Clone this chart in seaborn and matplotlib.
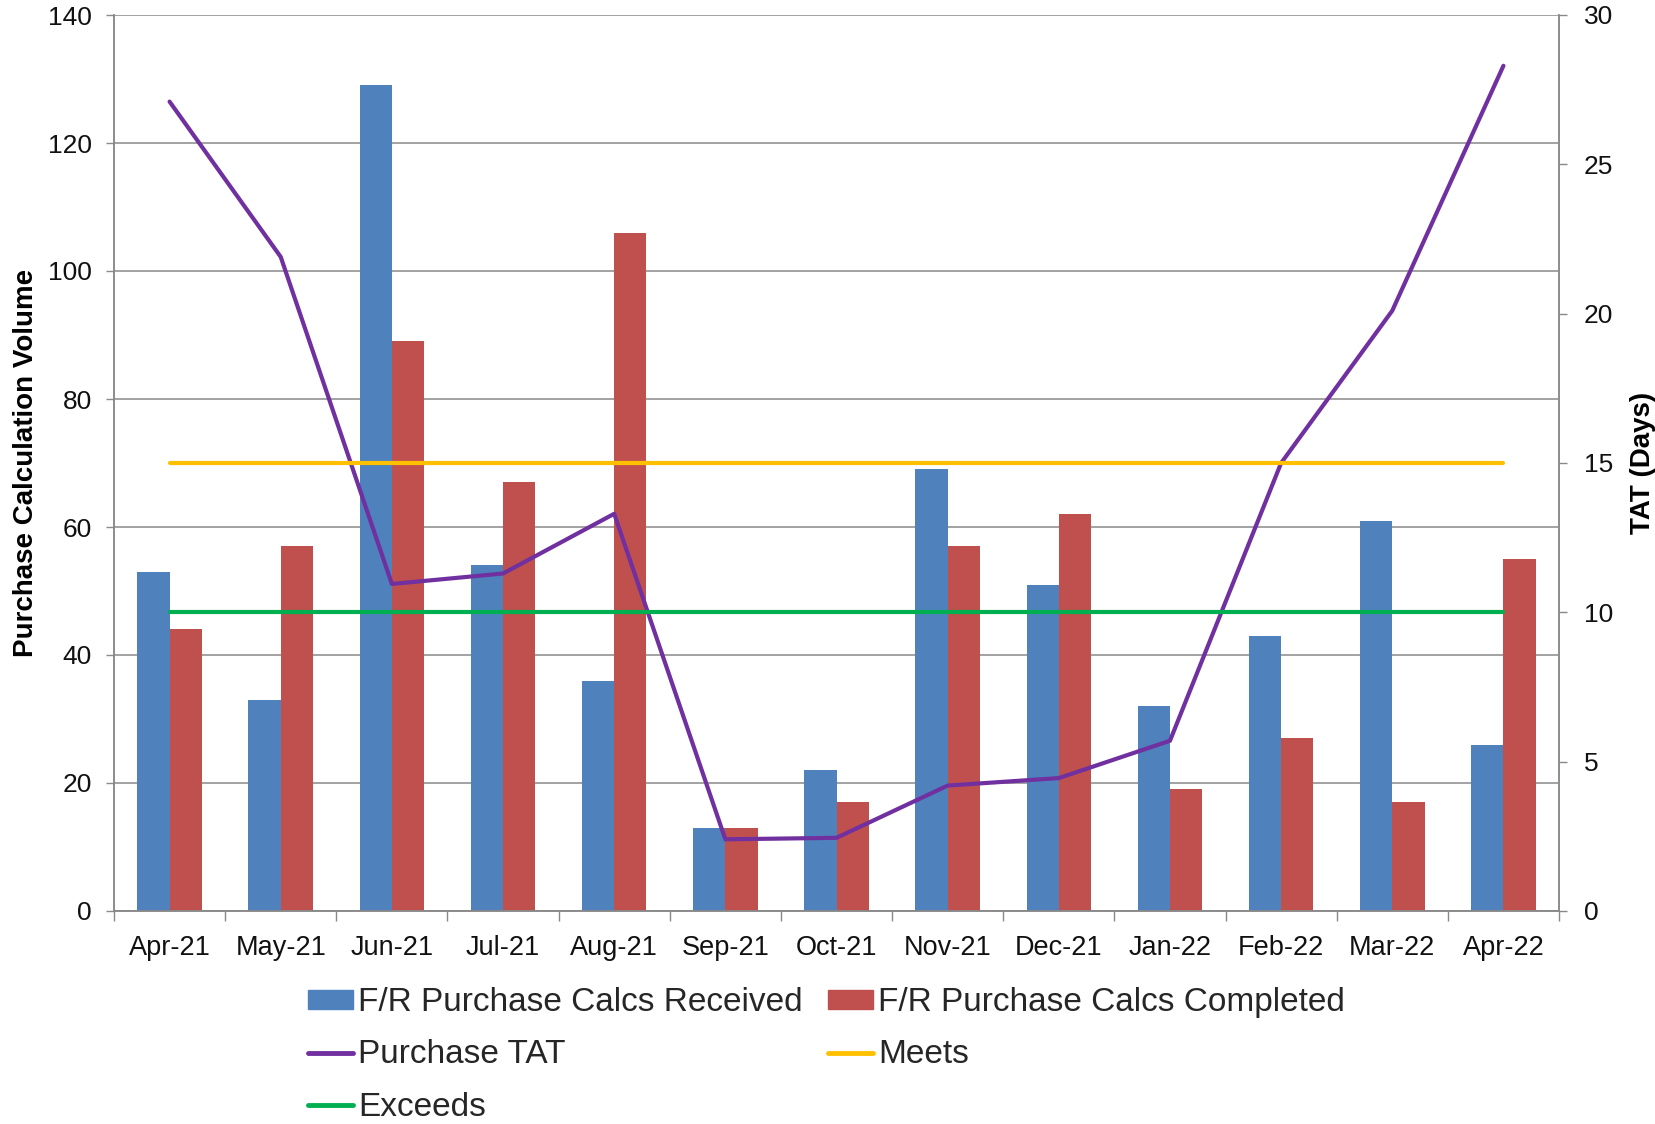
import numpy as np
import pandas as pd
import matplotlib
matplotlib.use("Agg")
import matplotlib.pyplot as plt
from matplotlib.patches import Patch
from matplotlib.lines import Line2D
from matplotlib.ticker import FixedLocator
import seaborn as sns


MONTHS = ["Apr-21", "May-21", "Jun-21", "Jul-21", "Aug-21", "Sep-21", "Oct-21",
          "Nov-21", "Dec-21", "Jan-22", "Feb-22", "Mar-22", "Apr-22"]
RECEIVED = [53, 33, 129, 54, 36, 13, 22, 69, 51, 32, 43, 61, 26]
COMPLETED = [44, 57, 89, 67, 106, 13, 17, 57, 62, 19, 27, 17, 55]
TAT = [27.1, 21.9, 10.95, 11.3, 13.3, 2.4, 2.45, 4.2, 4.45, 5.7, 15.0, 20.1, 28.3]
MEETS = 15
EXCEEDS = 10

LEFT_TICKS = [0, 20, 40, 60, 80, 100, 120, 140]
RIGHT_TICKS = [0, 5, 10, 15, 20, 25, 30]

REC_LABEL = "F/R Purchase Calcs Received"
COMP_LABEL = "F/R Purchase Calcs Completed"

BLUE = "#4F81BD"
RED = "#C0504D"
PURPLE = "#7030A0"
YELLOW = "#FFC000"
GREEN = "#00B050"
GREY = "#898989"


def build_frames():
    bar_df = pd.DataFrame({
        "month": MONTHS * 2,
        "volume": RECEIVED + COMPLETED,
        "series": [REC_LABEL] * len(MONTHS) + [COMP_LABEL] * len(MONTHS),
    })
    line_df = pd.DataFrame({
        "pos": np.arange(len(MONTHS)),
        "tat": TAT,
        "meets": [MEETS] * len(MONTHS),
        "exceeds": [EXCEEDS] * len(MONTHS),
    })
    return bar_df, line_df


def main():
    sns.set_theme(style="white")
    plt.rcParams["font.family"] = ["Liberation Sans", "DejaVu Sans"]

    bar_df, line_df = build_frames()

    fig = plt.figure(figsize=(16.55, 11.24), dpi=100)
    ax = fig.add_axes([114 / 1655, 1 - 911 / 1124, (1559 - 114) / 1655, (911 - 15) / 1124])

    sns.barplot(
        data=bar_df, x="month", y="volume", hue="series",
        order=MONTHS, hue_order=[REC_LABEL, COMP_LABEL],
        palette=[BLUE, RED], width=0.58, saturation=1,
        linewidth=0, legend=False, ax=ax
    )

    ax2 = ax.twinx()
    sns.lineplot(data=line_df, x="pos", y="tat", color=PURPLE, lw=3, ax=ax2)
    sns.lineplot(data=line_df, x="pos", y="meets", color=YELLOW, lw=3, ax=ax2)
    sns.lineplot(data=line_df, x="pos", y="exceeds", color=GREEN, lw=3, ax=ax2)

    # left axis
    ax.set_ylim(0, 140)
    ax.set_yticks(LEFT_TICKS)
    ax.set_axisbelow(True)
    ax.grid(axis="y", color=GREY, lw=1.1)
    ax.set_ylabel("Purchase Calculation Volume", fontsize=20, fontweight="bold",
                  color="black", labelpad=6)
    ax.set_xlabel("")
    ax.tick_params(axis="y", which="major", left=True, length=6, width=1,
                   color=GREY, labelsize=19, labelcolor="#111111", pad=10)

    # x axis: labels in the middle, ticks on the category borders
    ax.set_xlim(-0.5, len(MONTHS) - 0.5)
    ax.set_xticks(range(len(MONTHS)))
    ax.set_xticklabels(MONTHS)
    ax.xaxis.set_minor_locator(FixedLocator(np.arange(-0.5, len(MONTHS), 1)))
    ax.tick_params(axis="x", which="major", length=0, labelsize=19.5,
                   labelcolor="#111111", pad=17)
    ax.tick_params(axis="x", which="minor", bottom=True, length=7, width=1, color=GREY)

    # right axis
    ax2.set_ylim(0, 30)
    ax2.set_yticks(RIGHT_TICKS)
    ax2.set_ylabel("TAT (Days)", fontsize=20, fontweight="bold", color="black", labelpad=12)
    ax2.set_xlabel("")
    ax2.tick_params(axis="y", right=True, length=6, width=1, color=GREY,
                    labelsize=19, labelcolor="#111111", pad=12)

    for a in (ax, ax2):
        a.spines["top"].set_visible(False)
        for side in ("left", "right", "bottom"):
            a.spines[side].set_color(GREY)
            a.spines[side].set_linewidth(1.1)

    handles = [
        Patch(color=BLUE, label=REC_LABEL),
        Line2D([], [], color=PURPLE, lw=3.5, label="Purchase TAT"),
        Line2D([], [], color=GREEN, lw=3.5, label="Exceeds"),
        Patch(color=RED, label=COMP_LABEL),
        Line2D([], [], color=YELLOW, lw=3.5, label="Meets"),
    ]
    fig.legend(
        handles=handles, ncol=2, loc="upper left",
        bbox_to_anchor=(308 / 1655, 1 - 987 / 1124),
        frameon=False, fontsize=24, handlelength=1.36, handleheight=0.5,
        handletextpad=0.15, columnspacing=0.75, labelspacing=0.64,
        borderpad=0, borderaxespad=0
    )

    fig.savefig("out.png", dpi=100)


if __name__ == "__main__":
    main()
